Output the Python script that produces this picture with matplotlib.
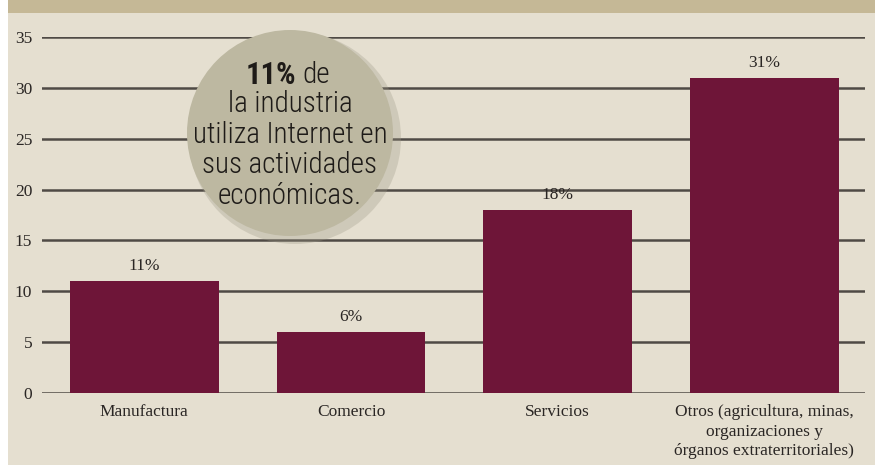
#!/usr/bin/env python3
# -*- coding: utf-8 -*-
"""
Uso de Internet por sector (bar chart with bubble note).
"""

# %% Import
import matplotlib as mpl
from matplotlib import pyplot as plt
from matplotlib.patches import Rectangle, Ellipse

mpl.use('Agg')

# %% Data
sectores = ['Manufactura', 'Comercio', 'Servicios',
            'Otros (agricultura, minas,\norganizaciones y\nórganos extraterritoriales)']
porcentajes = [11, 6, 18, 31]
yticks = [0, 5, 10, 15, 20, 25, 30, 35]
nota_lineas = ['la industria', 'utiliza Internet en', 'sus actividades', 'económicas.']

# %% Style
W, H = 878, 465
bg = '#e5dfd0'
band = '#c5b896'
bar_color = '#6e1538'
grid_color = '#4f4a45'
serif = ['Liberation Serif', 'DejaVu Serif']
narrow = ['Roboto Condensed', 'Liberation Sans Narrow', 'Lato', 'DejaVu Sans']

fig = plt.figure(figsize=(W / 100, H / 100), dpi=100, facecolor='white')

# Background panel and top band
fig.patches.append(Rectangle((8 / W, 0), (875 - 8) / W, 1, transform=fig.transFigure,
                             facecolor=bg, edgecolor='none', zorder=-2))
fig.patches.append(Rectangle((8 / W, 1 - 13 / H), (875 - 8) / W, 13 / H,
                             transform=fig.transFigure, facecolor=band,
                             edgecolor='none', zorder=-2))

ax = fig.add_axes([42 / W, (H - 393) / H, (865 - 42) / W, (393 - 37) / H])
ax.set_facecolor('none')

x = range(len(sectores))
ax.bar(x, porcentajes, width=0.72, color=bar_color, zorder=3)
for xi, v in zip(x, porcentajes):
    ax.annotate(f'{v}%', (xi, v), xytext=(0, 5), textcoords='offset points',
                ha='center', va='bottom', fontsize=12.5, family=serif,
                color='#2a2624', zorder=4)

ax.set_xlim(-0.495, 3.487)
ax.set_ylim(0, 35)
ax.set_yticks(yticks)
ax.set_yticklabels([str(t) for t in yticks], family=serif, fontsize=12.5,
                   color='#2a2624')
ax.set_xticks(list(x))
ax.set_xticklabels(sectores, family=serif, fontsize=12.5, color='#2a2624',
                   linespacing=1.3)
ax.tick_params(axis='both', length=0)
ax.tick_params(axis='y', pad=7)
ax.tick_params(axis='x', pad=8)
for s in ax.spines.values():
    s.set_visible(False)
ax.grid(axis='y', color=grid_color, linewidth=1.8, zorder=1)
ax.set_axisbelow(True)

# Bubble note
cx, cy, r = 290 / W, 1 - 133 / H, 103
fig.patches.append(Ellipse((cx + 5 / W, cy - 5 / H), 2 * (r + 3) / W, 2 * (r + 3) / H,
                           transform=fig.transFigure, facecolor='#9c9785',
                           alpha=0.3, edgecolor='none', zorder=5))
fig.patches.append(Ellipse((cx, cy), 2 * r / W, 2 * r / H,
                           transform=fig.transFigure, facecolor='#bdb8a1',
                           edgecolor='none', zorder=6))

fig.text(cx + 6 / W, 1 - 75 / H, '11%', ha='right', va='center',
         fontsize=22, fontweight='bold', family=narrow, color='#1e1b18',
         zorder=7)
fig.text(cx + 12 / W, 1 - 75 / H, 'de', ha='left', va='center', fontsize=21,
         fontweight='light', family=narrow, color='#1e1b18', zorder=7)
for i, linea in enumerate(nota_lineas):
    fig.text(cx, 1 - (104 + 30.5 * i) / H, linea, ha='center', va='center',
             fontsize=21, fontweight='light', family=narrow, color='#1e1b18',
             zorder=7)

# %% Save
fig.savefig('out.png', dpi=100, facecolor=fig.get_facecolor())
plt.close(fig)
